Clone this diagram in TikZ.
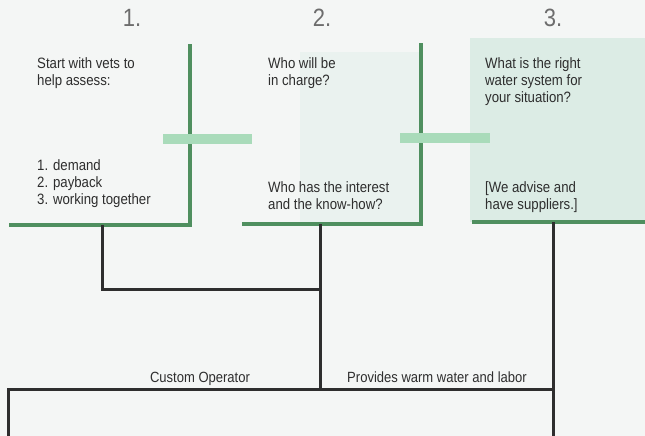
\documentclass[tikz,border=0pt]{standalone}
\usepackage{fontspec}
\setmainfont{Liberation Sans}[FakeStretch=0.88]
\usetikzlibrary{positioning}

\definecolor{paper}{HTML}{F4F6F5}
\definecolor{tint}{HTML}{D6EAE2}
\definecolor{boxgreen}{HTML}{4F8F5F}
\definecolor{bargreen}{HTML}{A9DBBA}
\definecolor{ink}{HTML}{2E2E2E}

\begin{document}
\begin{tikzpicture}[x=1pt,y=-1pt,
  txt/.style={anchor=north west,inner sep=0pt,align=left,text=ink,font=\fontsize{15}{17}\selectfont},
  num/.style={inner sep=0pt,text=ink!70,font=\fontsize{25}{25}\selectfont},
  lbl/.style={anchor=base,inner sep=0pt,text=ink,font=\fontsize{14.8}{17}\selectfont},
  frame/.style={boxgreen,line width=4pt},
  bar/.style={bargreen,line width=10pt},
  wire/.style={ink,line width=3pt}]
\fill [paper] (0,0) rectangle (645,436);
\useasboundingbox (0,0) rectangle (645,436);
\fill [tint,opacity=0.3] (300,52) rectangle (421,222);
\fill [tint,opacity=0.8] (470,38) rectangle (645,222);

\node [num] (n1) at (132,18) {1.};
\node [num] (n2) at (322,18) {2.};
\node [num] (n3) at (553,18) {3.};

% the three boxes
\draw [frame] (9,225) -- (190,225) -- (190,44);
\draw [frame] (242,224) -- (421,224) -- (421,43);
\draw [frame] (472,222) -- (645,222);
\draw [bar] (163,139) -- (252,139);
\draw [bar] (400,138) -- (490,138);

\node [txt] (s1a) at (37,57.2) {Start with vets to\\help assess:};
\node [txt] (s1b) at (37,159.2) {1. demand\\2. payback\\3. working together};
\node [txt] (s2a) at (268,57.2) {Who will be\\in charge?};
\node [txt] (s2b) at (268,181.2) {Who has the interest\\and the know-how?};
\node [txt] (s3a) at (485,57.2) {What is the right\\water system for\\your situation?};
\node [txt] (s3b) at (485,181.2) {[We advise and\\have suppliers.]};

\coordinate (b1) at (102,225);
\coordinate (b2) at (320,224);
\coordinate (b3) at (553,222);
\coordinate (j1) at (320,289);
\coordinate (j2) at (320,389);
\coordinate (ll) at (8,436);
\coordinate (lr) at (553,436);

\draw [wire] (b1) |- (j1);
\draw [wire] (b2) -- (j2);
\draw [wire] (b3) -- (lr);
\draw [wire] (ll) |- (j2 -| b3);

\node [lbl] (op) at (200,382) {Custom Operator};
\node [lbl] (pw) at (437,382) {Provides warm water and labor};
\end{tikzpicture}
\end{document}
